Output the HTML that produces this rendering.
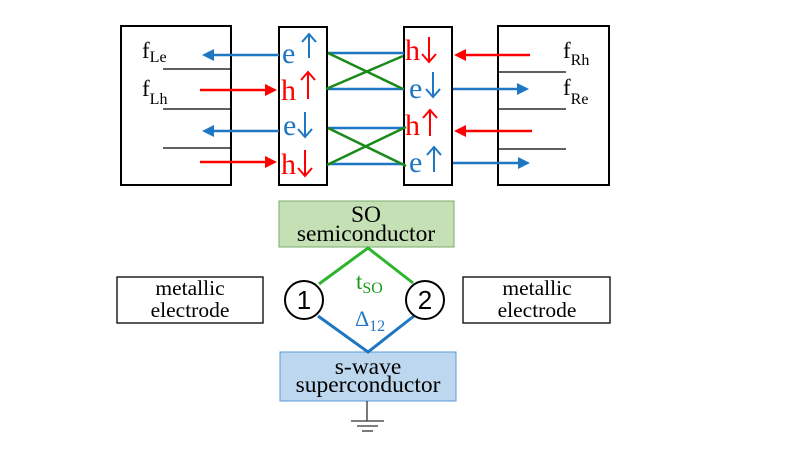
<!DOCTYPE html>
<html><head><meta charset="utf-8"><style>
html,body{margin:0;padding:0;background:#fff;width:807px;height:449px;overflow:hidden}
svg text{font-family:"Liberation Serif",serif}
</style></head><body>
<svg width="807" height="449" viewBox="0 0 807 449" xmlns="http://www.w3.org/2000/svg">
<g fill="#fff" stroke="#000" stroke-width="2">
<rect x="121" y="26" width="110" height="159"/>
<rect x="279" y="27" width="48" height="158"/>
<rect x="404" y="27" width="48" height="158"/>
<rect x="498" y="26" width="111" height="159"/>
</g>
<g stroke="#000" stroke-width="1.3">
<line x1="163" y1="69" x2="231" y2="69"/><line x1="163" y1="109" x2="231" y2="109"/><line x1="163" y1="148" x2="231" y2="148"/>
<line x1="498" y1="72" x2="566" y2="72"/><line x1="498" y1="109" x2="566" y2="109"/><line x1="498" y1="149" x2="566" y2="149"/>
</g>
<g stroke-width="2.5">
<line x1="279" y1="55" x2="212" y2="55" stroke="#1f77c4"/><path d="M202,55 L214,49 L214,61z" fill="#1f77c4"/>
<line x1="200" y1="90" x2="266" y2="90" stroke="#ff0000"/><path d="M277,90 L265,84 L265,96z" fill="#ff0000"/>
<line x1="279" y1="131" x2="212" y2="131" stroke="#1f77c4"/><path d="M202,131 L214,125 L214,137z" fill="#1f77c4"/>
<line x1="200" y1="162" x2="266" y2="162" stroke="#ff0000"/><path d="M277,162 L265,156 L265,168z" fill="#ff0000"/>
<line x1="530" y1="55" x2="465" y2="55" stroke="#ff0000"/><path d="M454,55 L466,49 L466,61z" fill="#ff0000"/>
<line x1="453" y1="89" x2="518" y2="89" stroke="#1f77c4"/><path d="M529,89 L517,83 L517,95z" fill="#1f77c4"/>
<line x1="532" y1="131" x2="465" y2="131" stroke="#ff0000"/><path d="M454,131 L466,125 L466,137z" fill="#ff0000"/>
<line x1="453" y1="163" x2="518" y2="163" stroke="#1f77c4"/><path d="M530,163 L518,157 L518,169z" fill="#1f77c4"/>
<g stroke="#1f77c4"><line x1="328" y1="53" x2="404" y2="53"/><line x1="328" y1="89" x2="404" y2="89"/><line x1="328" y1="128" x2="404" y2="128"/><line x1="328" y1="164" x2="404" y2="164"/></g>
<g stroke="#1a8a1a"><line x1="328" y1="53" x2="403" y2="89"/><line x1="326" y1="89" x2="403" y2="56"/><line x1="328" y1="128" x2="406" y2="166"/><line x1="327" y1="165" x2="406" y2="127"/></g>
</g>
<g font-size="30">
<text x="282" y="63" fill="#1f77c4">e</text>
<text x="281" y="100" fill="#ff0000">h</text>
<text x="283" y="135" fill="#1f77c4">e</text>
<text x="281" y="174" fill="#ff0000">h</text>
<text x="405" y="60" fill="#ff0000">h</text>
<text x="409" y="98" fill="#1f77c4">e</text>
<text x="405" y="135" fill="#ff0000">h</text>
<text x="409" y="172" fill="#1f77c4">e</text>
</g>
<g fill="none" stroke-width="2">
<g stroke="#1f77c4"><path d="M309,58 V34 M302,42 L309,34 L316,42"/></g>
<g stroke="#ff0000"><path d="M308,99 V72 M301,80 L308,72 L315,80"/></g>
<g stroke="#1f77c4"><path d="M305,112 V137 M298,129 L305,137 L312,129"/></g>
<g stroke="#ff0000"><path d="M305,150 V176 M298,168 L305,176 L312,168"/></g>
<g stroke="#ff0000"><path d="M429,37 V62 M422,54 L429,62 L436,54"/></g>
<g stroke="#1f77c4"><path d="M433,72 V97 M426,89 L433,97 L440,89"/></g>
<g stroke="#ff0000"><path d="M430,136 V110 M423,118 L430,110 L437,118"/></g>
<g stroke="#1f77c4"><path d="M434,172 V147 M427,155 L434,147 L441,155"/></g>
</g>
<g font-size="23" fill="#000">
<text x="142" y="58">f<tspan font-size="16" dy="4">Le</tspan></text>
<text x="142" y="96">f<tspan font-size="16" dy="8">Lh</tspan></text>
<text x="563" y="58">f<tspan font-size="16" dy="7">Rh</tspan></text>
<text x="563" y="95">f<tspan font-size="16" dy="9">Re</tspan></text>
</g>
<rect x="279" y="201" width="175" height="46" fill="#c5e0b4" stroke="#7aab6a" stroke-width="1"/>
<text x="366" y="222" font-size="23.5" text-anchor="middle">SO</text>
<text x="366" y="241" font-size="23.5" text-anchor="middle">semiconductor</text>
<rect x="280" y="352" width="176" height="49" fill="#bdd7ee" stroke="#5b9bd5" stroke-width="1"/>
<text x="368" y="374" font-size="23.5" text-anchor="middle">s-wave</text>
<text x="368" y="392" font-size="23.5" text-anchor="middle">superconductor</text>
<rect x="117" y="277" width="146" height="46" fill="#fff" stroke="#000" stroke-width="1.3"/>
<text x="190" y="295" font-size="21.5" text-anchor="middle">metallic</text>
<text x="190" y="317" font-size="21.5" text-anchor="middle">electrode</text>
<rect x="463" y="277" width="147" height="46" fill="#fff" stroke="#000" stroke-width="1.3"/>
<text x="537" y="295" font-size="21.5" text-anchor="middle">metallic</text>
<text x="537" y="317" font-size="21.5" text-anchor="middle">electrode</text>
<polyline points="319,284 368,248 413,283" fill="none" stroke="#2db52d" stroke-width="3"/>
<polyline points="318,316 368,352 414,316" fill="none" stroke="#1f77c4" stroke-width="3"/>
<circle cx="304" cy="300" r="19" fill="#fff" stroke="#000" stroke-width="2"/>
<circle cx="425" cy="300" r="19" fill="#fff" stroke="#000" stroke-width="2"/>
<text x="304" y="309" font-size="26" text-anchor="middle" style="font-family:'Liberation Sans',sans-serif">1</text>
<text x="425" y="309" font-size="26" text-anchor="middle" style="font-family:'Liberation Sans',sans-serif">2</text>
<text x="356" y="289" font-size="23" fill="#1a9a1a">t<tspan font-size="16" dy="4">SO</tspan></text>
<text x="355" y="326" font-size="22" fill="#1f77c4">Δ<tspan font-size="16" dy="5">12</tspan></text>
<g stroke="#333" stroke-width="1.3">
<line x1="367" y1="401" x2="367" y2="421"/>
<line x1="351" y1="421" x2="384" y2="421"/>
<line x1="357" y1="426" x2="378" y2="426"/>
<line x1="362" y1="431" x2="373" y2="431"/>
</g>
</svg>
</body></html>
